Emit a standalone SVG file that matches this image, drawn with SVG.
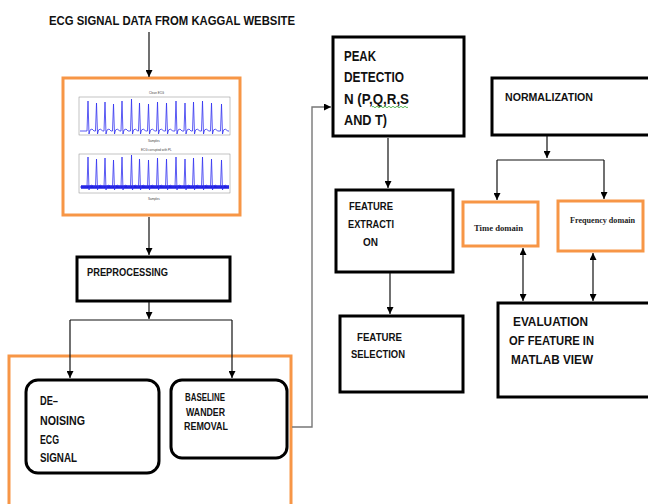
<svg xmlns="http://www.w3.org/2000/svg" width="648" height="504" viewBox="0 0 648 504">
<defs>
<marker id="ah" viewBox="0 0 10 10" refX="10" refY="5" markerWidth="7" markerHeight="7" markerUnits="userSpaceOnUse" orient="auto-start-reverse">
<path d="M0,0 L10,5 L0,10 z" fill="#000"/>
</marker>
<style>
.t{font-family:"Liberation Sans",Arial,sans-serif;font-weight:bold;fill:#111;}
.s{font-family:"Liberation Serif","Times New Roman",serif;font-weight:bold;fill:#222;}
.box{fill:#fff;stroke:#000;stroke-width:3;}
.obox{fill:#fff;stroke:#F79646;stroke-width:3;}
.c{fill:none;stroke:#111;stroke-width:1.2;}
.g{fill:none;stroke:#777;stroke-width:1.4;}
.ecg{fill:none;stroke:#3030F0;stroke-width:0.8;}
.ax{fill:#fff;stroke:#888;stroke-width:0.5;}
.tiny{font-family:"Liberation Sans",Arial,sans-serif;font-size:3px;fill:#444;}
</style>
</defs>
<rect width="648" height="504" fill="#fff"/>

<text class="t" x="49" y="25" font-size="13.5" textLength="246" lengthAdjust="spacingAndGlyphs">ECG SIGNAL DATA FROM  KAGGAL WEBSITE</text>

<g id="ecg-data">
<rect class="obox" x="63" y="78" width="177" height="137"/>
<rect class="ax" x="79" y="97" width="151" height="38"/>
<text class="tiny" x="149" y="94">Clean ECG</text>
<text class="tiny" x="148" y="142">Samples</text>
<path class="ecg" d="M80,131 H87 l1,-30 l1,33 l1,-4 l2,-1 l2,2 H95.5 l1,-28 l1,31 l1,-4 l2,-1 l2,2 H104 l1,-29 l1,32 l1,-4 l2,-1 l2,2 H112.5 l1,-27 l1,30 l1,-4 l2,-1 l2,2 H121 l1,-30 l1,33 l1,-4 l2,-1 l2,2 H130.5 l1,-32 l1,35 l1,-4 l2,-1 l2,2 H138.5 l1,-28 l1,31 l1,-4 l2,-1 l2,2 H147.5 l1,-27 l1,30 l1,-4 l2,-1 l2,2 H156.5 l1,-29 l1,32 l1,-4 l2,-1 l2,2 H165.5 l1,-28 l1,31 l1,-4 l2,-1 l2,2 H175 l1,-30 l1,33 l1,-4 l2,-1 l2,2 H184 l1,-28 l1,31 l1,-4 l2,-1 l2,2 H192.5 l1,-29 l1,32 l1,-4 l2,-1 l2,2 H201.5 l1,-30 l1,33 l1,-4 l2,-1 l2,2 H210.5 l1,-28 l1,31 l1,-4 l2,-1 l2,2 H220.5 l1,-27 l1,30 l1,-4 l2,-1 l2,2 H229"/>
<rect class="ax" x="79" y="154" width="151" height="39"/>
<text class="tiny" x="141" y="151">ECG corrupted with PL</text>
<text class="tiny" x="148" y="200">Samples</text>
<path d="M81,187 H229" stroke="#2020E0" stroke-width="3.5" fill="none"/>
<path class="ecg" transform="translate(0,56)" d="M80,131 H87 l1,-30 l1,33 l1,-4 l2,-1 l2,2 H95.5 l1,-28 l1,31 l1,-4 l2,-1 l2,2 H104 l1,-29 l1,32 l1,-4 l2,-1 l2,2 H112.5 l1,-27 l1,30 l1,-4 l2,-1 l2,2 H121 l1,-30 l1,33 l1,-4 l2,-1 l2,2 H130.5 l1,-32 l1,35 l1,-4 l2,-1 l2,2 H138.5 l1,-28 l1,31 l1,-4 l2,-1 l2,2 H147.5 l1,-27 l1,30 l1,-4 l2,-1 l2,2 H156.5 l1,-29 l1,32 l1,-4 l2,-1 l2,2 H165.5 l1,-28 l1,31 l1,-4 l2,-1 l2,2 H175 l1,-30 l1,33 l1,-4 l2,-1 l2,2 H184 l1,-28 l1,31 l1,-4 l2,-1 l2,2 H192.5 l1,-29 l1,32 l1,-4 l2,-1 l2,2 H201.5 l1,-30 l1,33 l1,-4 l2,-1 l2,2 H210.5 l1,-28 l1,31 l1,-4 l2,-1 l2,2 H220.5 l1,-27 l1,30 l1,-4 l2,-1 l2,2 H229"/>
</g>

<g id="preprocessing">
<rect class="box" x="77" y="257" width="153" height="44"/>
<text class="t" x="87" y="276" font-size="11.5" textLength="81" lengthAdjust="spacingAndGlyphs">PREPROCESSING</text>
</g>

<g id="preprocessing-group">
<rect class="obox" x="9" y="356" width="282" height="160"/>
</g>

<g id="denoising">
<rect class="box" x="26" y="380" width="133" height="93" rx="12"/>
<text class="t" x="40" y="405" font-size="12" textLength="18" lengthAdjust="spacingAndGlyphs">DE–</text>
<text class="t" x="40" y="425" font-size="12" textLength="45" lengthAdjust="spacingAndGlyphs">NOISING</text>
<text class="t" x="40" y="444" font-size="12" textLength="19" lengthAdjust="spacingAndGlyphs">ECG</text>
<text class="t" x="40" y="462" font-size="12" textLength="37" lengthAdjust="spacingAndGlyphs">SIGNAL</text>
</g>

<g id="baseline">
<rect class="box" x="171" y="380" width="116" height="78" rx="11"/>
<text class="t" x="185" y="401" font-size="10" textLength="40" lengthAdjust="spacingAndGlyphs">BASELINE</text>
<text class="t" x="186" y="416" font-size="10" textLength="39" lengthAdjust="spacingAndGlyphs">WANDER</text>
<text class="t" x="184" y="430" font-size="10" textLength="44" lengthAdjust="spacingAndGlyphs">REMOVAL</text>
</g>

<g id="peak">
<rect class="box" x="333" y="37" width="131" height="99"/>
<text class="t" x="344" y="61" font-size="14" textLength="32" lengthAdjust="spacingAndGlyphs">PEAK</text>
<text class="t" x="344" y="82" font-size="14" textLength="60" lengthAdjust="spacingAndGlyphs">DETECTIO</text>
<text class="t" x="344" y="104" font-size="14" textLength="65" lengthAdjust="spacingAndGlyphs">N  (P,Q,R,S</text>
<path d="M372,107 q1,-1.5 2,0 t2,0 t2,0 t2,0 t2,0 t2,0 t2,0 t2,0 t2,0 t2,0 t2,0 t2,0 t2,0 t2,0 t2,0 t2,0 t2,0 t2,0" fill="none" stroke="#3A3" stroke-width="0.8"/>
<text class="t" x="344" y="125" font-size="14" textLength="43" lengthAdjust="spacingAndGlyphs">AND T)</text>
</g>

<g id="extraction">
<rect class="box" x="336" y="190" width="117" height="82"/>
<text class="t" x="349" y="210" font-size="11.5" textLength="44" lengthAdjust="spacingAndGlyphs">FEATURE</text>
<text class="t" x="348" y="228" font-size="11.5" textLength="46" lengthAdjust="spacingAndGlyphs">EXTRACTI</text>
<text class="t" x="363" y="246" font-size="11.5" textLength="15" lengthAdjust="spacingAndGlyphs">ON</text>
</g>

<g id="selection">
<rect class="box" x="340" y="316" width="123" height="76"/>
<text class="t" x="357" y="341" font-size="11.5" textLength="45" lengthAdjust="spacingAndGlyphs">FEATURE</text>
<text class="t" x="351" y="358" font-size="11.5" textLength="54" lengthAdjust="spacingAndGlyphs">SELECTION</text>
</g>

<g id="normalization">
<rect class="box" x="492" y="78" width="170" height="57"/>
<text class="t" x="505" y="101" font-size="11.5" textLength="88" lengthAdjust="spacingAndGlyphs">NORMALIZATION</text>
</g>

<g id="time-domain">
<rect class="obox" x="463" y="202" width="75" height="44"/>
<text class="s" x="474" y="231" font-size="8" textLength="49" lengthAdjust="spacingAndGlyphs">Time domain</text>
</g>

<g id="frequency-domain">
<rect class="obox" x="558" y="201" width="85" height="50"/>
<text class="s" x="570" y="223" font-size="8" textLength="65" lengthAdjust="spacingAndGlyphs">Frequency domain</text>
</g>

<g id="evaluation">
<rect class="box" x="498" y="303" width="164" height="94"/>
<text class="t" x="513" y="326" font-size="13.5" textLength="75" lengthAdjust="spacingAndGlyphs">EVALUATION</text>
<text class="t" x="509" y="345" font-size="13.5" textLength="85" lengthAdjust="spacingAndGlyphs">OF FEATURE IN</text>
<text class="t" x="511" y="364" font-size="13.5" textLength="82" lengthAdjust="spacingAndGlyphs">MATLAB VIEW</text>
</g>

<g id="connectors">
<path class="c" d="M149,32 V77" marker-end="url(#ah)"/>
<path class="c" d="M149,217 V255" marker-end="url(#ah)"/>
<path class="c" d="M149,302 V319" marker-end="url(#ah)"/>
<path class="c" d="M70,320 H232"/>
<path class="c" d="M70,320 V378" marker-end="url(#ah)"/>
<path class="c" d="M232,320 V378" marker-end="url(#ah)"/>
<path class="g" d="M292,427 H312 V107 H331" marker-end="url(#ah)"/>
<path class="c" d="M388,138 V188" marker-end="url(#ah)"/>
<path class="c" d="M390,273 V314" marker-end="url(#ah)"/>
<path class="c" d="M547,136 V158" marker-end="url(#ah)"/>
<path class="c" d="M497,160 H604"/>
<path class="c" d="M497,160 V200" marker-end="url(#ah)"/>
<path class="c" d="M604,160 V199" marker-end="url(#ah)"/>
<path class="c" d="M523,248 V301" marker-start="url(#ah)" marker-end="url(#ah)"/>
<path class="c" d="M593,253 V301" marker-start="url(#ah)" marker-end="url(#ah)"/>
</g>
</svg>
